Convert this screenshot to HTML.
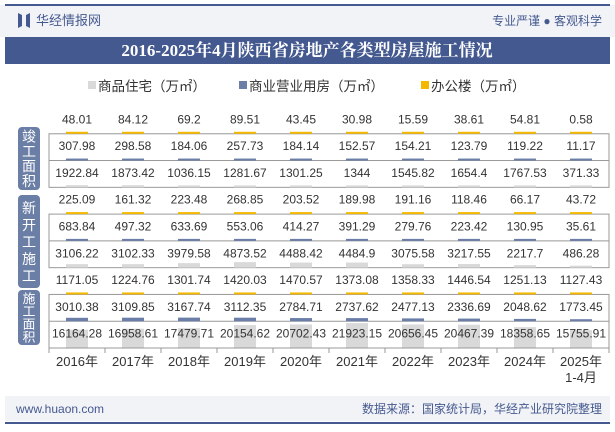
<!DOCTYPE html>
<html><head><meta charset="utf-8"><style>
body{margin:0;width:615px;height:427px;overflow:hidden;background:#fff;font-family:"Liberation Sans","Noto Sans CJK SC",sans-serif;}
</style></head><body>
<svg id="c" width="615" height="427" xmlns="http://www.w3.org/2000/svg">
<rect x="0" y="5" width="615" height="32" fill="#f2f3f7"/>
<rect x="5" y="4" width="605" height="2" fill="#44598f"/>
<path d="M18 13 L22 15 L22 26 L18 28 Z M30 13 L26 15 L26 26 L30 28 Z" fill="#44598f"/>
<text x="36" y="25" font-size="13" fill="#44598f">华经情报网</text>
<text x="602" y="25" font-size="12" fill="#44598f" text-anchor="end">专业严谨 ● 客观科学</text>
<rect x="5" y="37" width="605" height="27" fill="#44598f"/>
<text x="307" y="56" font-size="17" font-weight="bold" fill="#fff" text-anchor="middle" font-family="Liberation Serif,'Noto Serif CJK SC',serif">2016-2025年4月陕西省房地产各类型房屋施工情况</text>
<g font-size="13.5" fill="#333">
<rect x="88" y="81" width="8" height="8" fill="#d9d9d9"/>
<text x="98" y="91">商品住宅（万㎡）</text>
<rect x="239" y="81" width="8" height="8" fill="#6a7ea8"/>
<text x="249" y="91">商业营业用房（万㎡）</text>
<rect x="421" y="81" width="8" height="8" fill="#f5b800"/>
<text x="431" y="91">办公楼（万㎡）</text>
</g>
<g id="plot"></g>
<rect x="5" y="396" width="605" height="25" fill="#f2f3f7"/>
<rect x="5" y="422" width="605" height="2" fill="#44598f"/>
<text x="16" y="413" font-size="12" fill="#44598f">www.huaon.com</text>
<text x="602" y="413" font-size="12" fill="#44598f" text-anchor="end">数据来源：国家统计局，华经产业研究院整理</text>
</svg>
<script>
const categories=["2016年","2017年","2018年","2019年","2020年","2021年","2022年","2023年","2024年","2025年"];
const completedOffice=[48.01,84.12,69.2,89.51,43.45,30.98,15.59,38.61,54.81,0.58];
const completedCommercial=[307.98,298.58,184.06,257.73,184.14,152.57,154.21,123.79,119.22,11.17];
const completedResidential=[1922.84,1873.42,1036.15,1281.67,1301.25,1344,1545.82,1654.4,1767.53,371.33];
const newOffice=[225.09,161.32,223.48,268.85,203.52,189.98,191.16,118.46,66.17,43.72];
const newCommercial=[683.84,497.32,633.69,553.06,414.27,391.29,279.76,223.42,130.95,35.61];
const newResidential=[3106.22,3102.33,3979.58,4873.52,4488.42,4484.9,3075.58,3217.55,2217.7,486.28];
const underOffice=[1171.05,1224.76,1301.74,1420.03,1470.57,1373.08,1358.33,1446.54,1251.13,1127.43];
const underCommercial=[3010.38,3109.85,3167.74,3112.35,2784.71,2737.62,2477.13,2336.69,2048.62,1773.45];
const underResidential=[16164.28,16958.61,17479.71,20154.62,20702.43,21923.15,20656.45,20467.39,18358.65,15755.91];
const groupLabels=["竣工面积","新开工施工","施工面积"];
const NS="http://www.w3.org/2000/svg";
const plot=document.getElementById('plot');
function mk(t,a){const e=document.createElementNS(NS,t);for(const k in a)e.setAttribute(k,a[k]);plot.appendChild(e);return e;}
const x0=49,x1=609,colW=(x1-x0)/categories.length;
const xc=i=>x0+colW*(i+0.5);
const rowTop=107,rowH=(348-107)/9;
const hScale=v=>Math.max(2,v/22000*25);
const tabs=[[127,190],[195,288],[290,345]];
const rows=[
 [completedOffice,"#f5b800","office"],[completedCommercial,"#6a7ea8","commercial"],[completedResidential,"#d9d9d9","residential"],
 [newOffice,"#f5b800","office"],[newCommercial,"#6a7ea8","commercial"],[newResidential,"#d9d9d9","residential"],
 [underOffice,"#f5b800","office"],[underCommercial,"#6a7ea8","commercial"],[underResidential,"#d9d9d9","residential"]];
for(let g=0;g<3;g++){
 const t=rowTop+rowH*(g*3+1),b=rowTop+rowH*(g*3+3);
 let r=mk('rect',{x:x0,y:t,width:x1-x0,height:b-t,fill:'none',stroke:'#999','stroke-width':1});
 
 
 let l=mk('line',{x1:x0,x2:x1,y1:t+rowH,y2:t+rowH,stroke:'#999'});
 
 
 const tt=tabs[g][0], tb=tabs[g][1];
 let tab=mk('rect',{x:18,y:tt,width:22,height:tb-tt,rx:4,fill:'#6b7fa6'});
 
 
 const lab=groupLabels[g];const n=lab.length;const step=Math.min(17,(tb-tt-4)/n);
 const fs=Math.min(14,step);
 for(let k=0;k<n;k++){let tx=mk('text',{x:29,y:(tt+tb)/2-(n*step)/2+step*(k+0.5)+fs*0.38,'font-size':fs,fill:'#fff','text-anchor':'middle'});tx.textContent=lab[k];
  
  }
}
rows.forEach((r,ri)=>{
 const [vals,col,nm]=r;const bot=rowTop+rowH*(ri+1);
 vals.forEach((v,i)=>{
  const h=hScale(v);
  let b=mk('rect',{x:xc(i)-11,y:bot-h,width:22,height:h,fill:col});
  
  
  let t=mk('text',{x:xc(i),y:bot-rowH/2+3,'font-size':12,fill:'#333','text-anchor':'middle'});t.textContent=String(v);
  
  
 });
});
let ax=mk('line',{x1:x0,x2:x1,y1:348,y2:348,stroke:'#999'});


for(let i=0;i<=categories.length;i++){let tk=mk('line',{x1:x0+colW*i,x2:x0+colW*i,y1:348,y2:353,stroke:'#999'});
 
 }
categories.forEach((c,i)=>{let t=mk('text',{x:xc(i),y:366,'font-size':13,fill:'#333','text-anchor':'middle'});t.textContent=c;
 
 });
let sub=mk('text',{x:xc(9),y:382,'font-size':13,fill:'#333','text-anchor':'middle'});sub.textContent="1-4月";


</script>
</body></html>
